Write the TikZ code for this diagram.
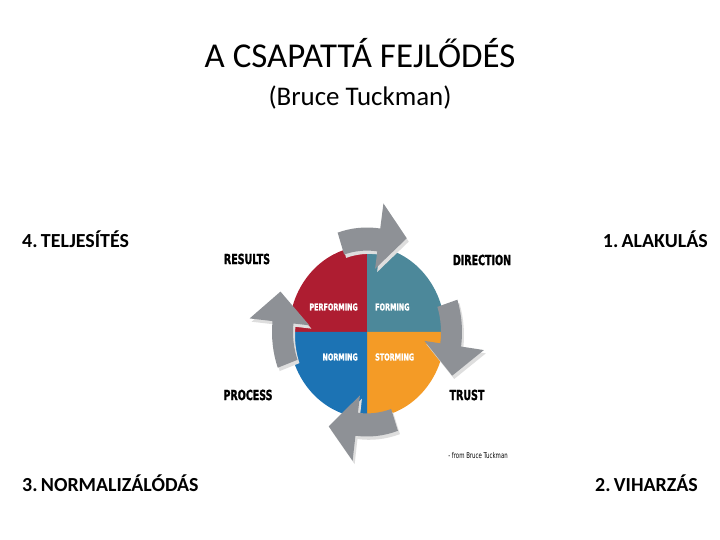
\documentclass[tikz,border=0pt]{standalone}
\usepackage{fontspec}
\setmainfont{Carlito}
\newfontfamily\wheelfont[FakeStretch=0.68, BoldFeatures={FakeBold=1.4}]{DejaVu Sans}
\usetikzlibrary{positioning}
\definecolor{cred}{HTML}{AE1D31}
\definecolor{cteal}{HTML}{4C889A}
\definecolor{cblue}{HTML}{1C73B4}
\definecolor{corange}{HTML}{F49B26}
\definecolor{cgrey}{HTML}{8E9196}
\tikzset{
  every picture/.style={x=1bp, y=1bp},
  stage/.style={font=\fontsize{20}{24}\selectfont\bfseries, inner sep=0pt},
  corner/.style={font=\wheelfont\bfseries\fontsize{14}{16}\selectfont, inner sep=0pt},
  quarter/.style={font=\wheelfont\bfseries\fontsize{9.5}{11}\selectfont, text=white, inner sep=0pt},
}
% one curved arrow of the wheel, #1 = angle where the head starts
\newcommand\arrowpath[1]{(#1+26:74) arc[start angle=#1+26, end angle=#1, radius=74]
  -- (#1:58) -- (#1-17:94) -- (#1:118) -- (#1:95)
  arc[start angle=#1, end angle=#1+26, radius=95] -- cycle}

\begin{document}
\begin{tikzpicture}
  \fill[white] (0,0) rectangle (720,540);
  \useasboundingbox (0,0) rectangle (720,540);
  % titles
  \node[anchor=base, font=\fontsize{35}{40}\selectfont] (title) at (360,472) {A CSAPATTÁ FEJLŐDÉS};
  \node[anchor=base, font=\fontsize{27}{32}\selectfont] (subtitle) at (360,434) {(Bruce Tuckman)};
  % stages in the corners
  \node[stage, anchor=base west] (teljesites) at (22,292) {4.\,TELJESÍTÉS};
  \node[stage, anchor=base east] (alakulas) at (708,292) {1.\,ALAKULÁS};
  \node[stage, anchor=base west] (normalizalodas) at (22,48) {3.\,NORMALIZÁLÓDÁS};
  \node[stage, anchor=base east] (viharzas) at (698,48) {2.\,VIHARZÁS};
  % the wheel
  \begin{scope}[shift={(367,208)}, yscale=1.1]
    \fill[cred] (0,0) -- (90:78) arc[start angle=90, end angle=180, radius=78] -- cycle;
    \fill[cteal] (0,0) -- (0:78) arc[start angle=0, end angle=90, radius=78] -- cycle;
    \fill[corange] (0,0) -- (-90:78) arc[start angle=-90, end angle=0, radius=78] -- cycle;
    \fill[cblue] (0,0) -- (180:78) arc[start angle=180, end angle=270, radius=78] -- cycle;
    \foreach \a in {82,-8,-97,174} {
      \fill[black!13, shift={(2,-3)}] \arrowpath{\a};
      \fill[cgrey] \arrowpath{\a};
    }
  \end{scope}
  \node[quarter, anchor=east] (performing) at (358,233) {PERFORMING};
  \node[quarter, anchor=west] (forming) at (375,233) {FORMING};
  \node[quarter, anchor=east] (norming) at (358,183) {NORMING};
  \node[quarter, anchor=west] (storming) at (375,183) {STORMING};
  \node[corner] (results) at (247,281) {RESULTS};
  \node[corner] (direction) at (482,280) {DIRECTION};
  \node[corner] (process) at (248,145) {PROCESS};
  \node[corner] (trust) at (467,145) {TRUST};
  \node[font=\wheelfont\fontsize{8}{10}\selectfont, inner sep=0pt] (credit) at (478,84) {- from Bruce Tuckman};
\end{tikzpicture}
\end{document}
